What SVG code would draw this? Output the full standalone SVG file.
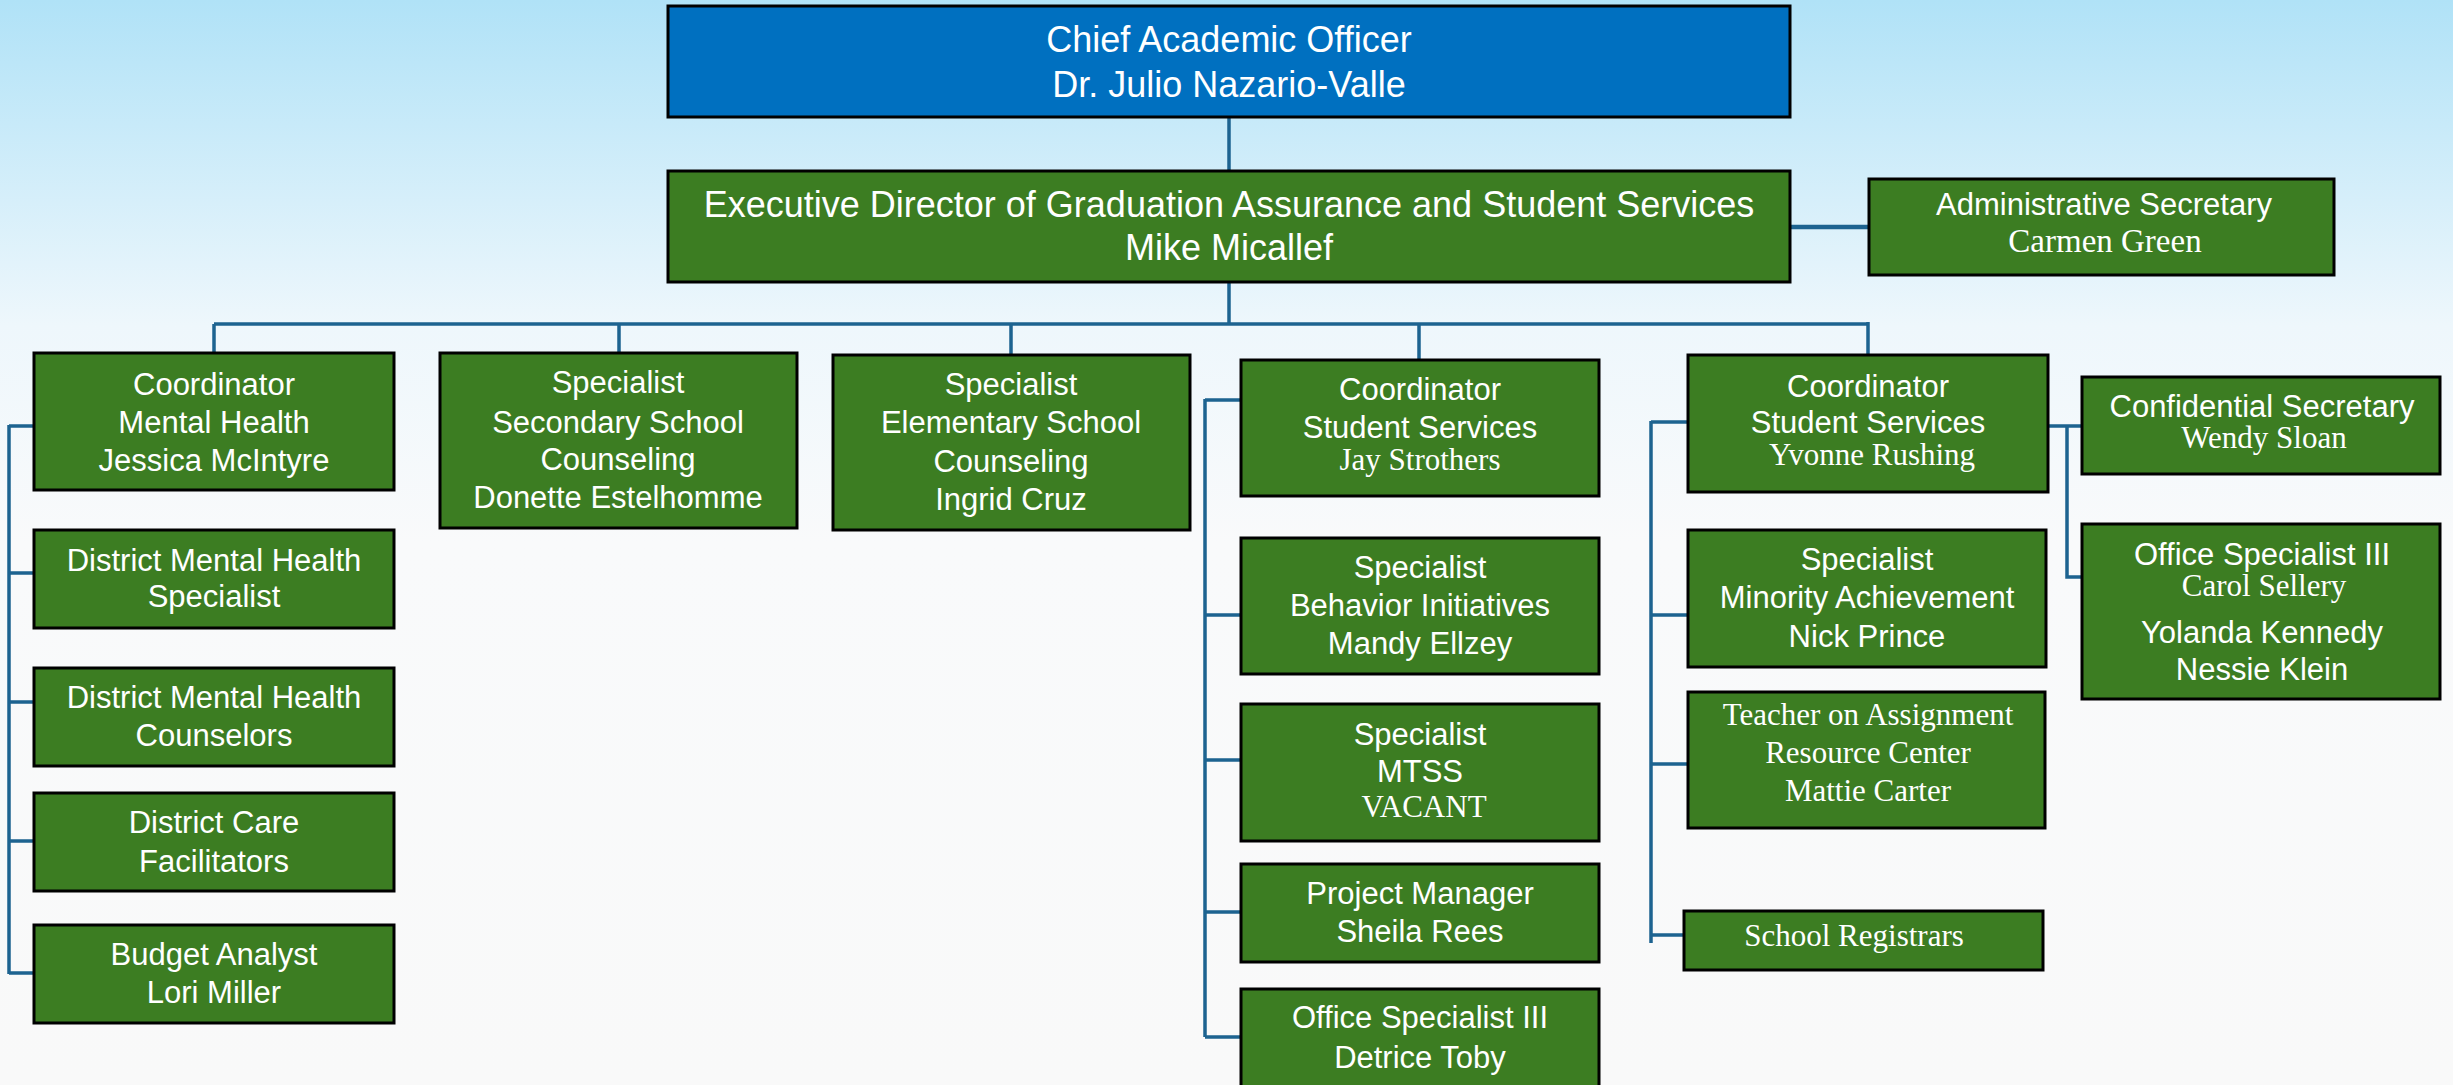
<svg xmlns="http://www.w3.org/2000/svg" width="2453" height="1085" viewBox="0 0 2453 1085">
<defs>
<linearGradient id="bg" x1="0" y1="0" x2="0" y2="1">
<stop offset="0" stop-color="#B0E2F7"/>
<stop offset="0.3" stop-color="#EEF7FC"/>
<stop offset="0.5" stop-color="#F9FAFB"/>
<stop offset="1" stop-color="#F9F9F9"/>
</linearGradient>
<style>
.box{fill:#3C7D22;stroke:#000;stroke-width:3}
.top{fill:#0070C0;stroke:#000;stroke-width:3}
.t{font-family:"Liberation Sans",Arial,sans-serif;fill:#fff;text-anchor:middle}
.s{font-size:31px}
.l{font-size:36px}
.sf{font-family:"Liberation Serif","Times New Roman",serif;font-size:31px;fill:#fff;text-anchor:middle}
.ln{fill:none;stroke:#1D6390;stroke-width:3.5}
</style>
</defs>
<rect x="0" y="0" width="2453" height="1085" fill="url(#bg)"/>

<g id="connectors">
<path class="ln" d="M1229 117 V171"/>
<path class="ln" d="M1790 227 H1869" style="stroke-width:4.5"/>
<path class="ln" d="M1229 282 V324"/>
<path class="ln" d="M214 324 H1868"/>
<path class="ln" d="M214 324 V353 M619 324 V353 M1011 324 V355 M1419 324 V360 M1868 322 V355"/>
<path class="ln" d="M9 425 V974 M9 426 H34 M9 573 H34 M9 702 H34 M9 841 H34 M9 973 H34"/>
<path class="ln" d="M1205 399 V1037 M1205 400 H1241 M1205 615 H1241 M1205 760 H1241 M1205 912 H1241 M1205 1037 H1241"/>
<path class="ln" d="M1651 421 V943 M1651 422 H1688 M1651 615 H1688 M1651 764 H1688 M1651 935 H1684"/>
<path class="ln" d="M2048 426 H2082 M2067 426 V577 H2082"/>
</g>

<g id="chief">
<rect class="top" x="668" y="6" width="1122" height="111"/>
<text class="t l" x="1229" y="52">Chief Academic Officer</text>
<text class="t l" x="1229" y="97">Dr. Julio Nazario-Valle</text>
</g>

<g id="exec">
<rect class="box" x="668" y="171" width="1122" height="111"/>
<text class="t l" x="1229" y="217">Executive Director of Graduation Assurance and Student Services</text>
<text class="t l" x="1229" y="260">Mike Micallef</text>
</g>

<g id="admin-secretary">
<rect class="box" x="1869" y="179" width="465" height="96"/>
<text class="t s" x="2104" y="215">Administrative Secretary</text>
<text class="sf" x="2105" y="252" style="font-size:33px">Carmen Green</text>
</g>

<g id="coord-mental-health">
<rect class="box" x="34" y="353" width="360" height="137"/>
<text class="t s" x="214" y="395">Coordinator</text>
<text class="t s" x="214" y="433">Mental Health</text>
<text class="t s" x="214" y="471">Jessica McIntyre</text>
</g>

<g id="dmh-specialist">
<rect class="box" x="34" y="530" width="360" height="98"/>
<text class="t s" x="214" y="571">District Mental Health</text>
<text class="t s" x="214" y="607">Specialist</text>
</g>

<g id="dmh-counselors">
<rect class="box" x="34" y="668" width="360" height="98"/>
<text class="t s" x="214" y="708">District Mental Health</text>
<text class="t s" x="214" y="746">Counselors</text>
</g>

<g id="care-facilitators">
<rect class="box" x="34" y="793" width="360" height="98"/>
<text class="t s" x="214" y="833">District Care</text>
<text class="t s" x="214" y="872">Facilitators</text>
</g>

<g id="budget-analyst">
<rect class="box" x="34" y="925" width="360" height="98"/>
<text class="t s" x="214" y="965">Budget Analyst</text>
<text class="t s" x="214" y="1003">Lori Miller</text>
</g>

<g id="secondary-counseling">
<rect class="box" x="440" y="353" width="357" height="175"/>
<text class="t s" x="618" y="393">Specialist</text>
<text class="t s" x="618" y="433">Secondary School</text>
<text class="t s" x="618" y="470">Counseling</text>
<text class="t s" x="618" y="508">Donette Estelhomme</text>
</g>

<g id="elementary-counseling">
<rect class="box" x="833" y="355" width="357" height="175"/>
<text class="t s" x="1011" y="395">Specialist</text>
<text class="t s" x="1011" y="433">Elementary School</text>
<text class="t s" x="1011" y="472">Counseling</text>
<text class="t s" x="1011" y="510">Ingrid Cruz</text>
</g>

<g id="coord-student-services-jay">
<rect class="box" x="1241" y="360" width="358" height="136"/>
<text class="t s" x="1420" y="400">Coordinator</text>
<text class="t s" x="1420" y="438">Student Services</text>
<text class="sf" x="1420" y="470">Jay Strothers</text>
</g>

<g id="behavior-initiatives">
<rect class="box" x="1241" y="538" width="358" height="136"/>
<text class="t s" x="1420" y="578">Specialist</text>
<text class="t s" x="1420" y="616">Behavior Initiatives</text>
<text class="t s" x="1420" y="654">Mandy Ellzey</text>
</g>

<g id="mtss">
<rect class="box" x="1241" y="704" width="358" height="137"/>
<text class="t s" x="1420" y="745">Specialist</text>
<text class="t s" x="1420" y="782">MTSS</text>
<text class="sf" x="1424" y="817">VACANT</text>
</g>

<g id="project-manager">
<rect class="box" x="1241" y="864" width="358" height="98"/>
<text class="t s" x="1420" y="904">Project Manager</text>
<text class="t s" x="1420" y="942">Sheila Rees</text>
</g>

<g id="office-specialist-detrice">
<rect class="box" x="1241" y="989" width="358" height="110"/>
<text class="t s" x="1420" y="1028">Office Specialist III</text>
<text class="t s" x="1420" y="1068">Detrice Toby</text>
</g>

<g id="coord-student-services-yvonne">
<rect class="box" x="1688" y="355" width="360" height="137"/>
<text class="t s" x="1868" y="397">Coordinator</text>
<text class="t s" x="1868" y="433">Student Services</text>
<text class="sf" x="1872" y="465">Yvonne Rushing</text>
</g>

<g id="minority-achievement">
<rect class="box" x="1688" y="530" width="358" height="137"/>
<text class="t s" x="1867" y="570">Specialist</text>
<text class="t s" x="1867" y="608">Minority Achievement</text>
<text class="t s" x="1867" y="647">Nick Prince</text>
</g>

<g id="teacher-on-assignment">
<rect class="box" x="1688" y="692" width="357" height="136"/>
<text class="sf" x="1868" y="725">Teacher on Assignment</text>
<text class="sf" x="1868" y="763">Resource Center</text>
<text class="sf" x="1868" y="801">Mattie Carter</text>
</g>

<g id="school-registrars">
<rect class="box" x="1684" y="911" width="359" height="59"/>
<text class="sf" x="1854" y="946">School Registrars</text>
</g>

<g id="confidential-secretary">
<rect class="box" x="2082" y="377" width="358" height="97"/>
<text class="t s" x="2262" y="417">Confidential Secretary</text>
<text class="sf" x="2264" y="448">Wendy Sloan</text>
</g>

<g id="office-specialist-group">
<rect class="box" x="2082" y="524" width="358" height="175"/>
<text class="t s" x="2262" y="565">Office Specialist III</text>
<text class="sf" x="2264" y="596">Carol Sellery</text>
<text class="t s" x="2262" y="643">Yolanda Kennedy</text>
<text class="t s" x="2262" y="680">Nessie Klein</text>
</g>
</svg>
